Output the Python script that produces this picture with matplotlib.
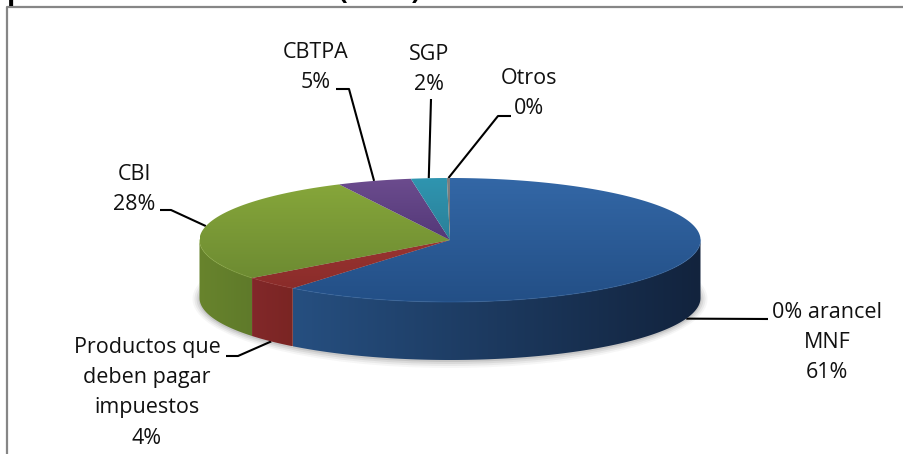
import numpy as np
import matplotlib.pyplot as plt
from matplotlib.colors import LinearSegmentedColormap
from matplotlib.patches import Polygon, Ellipse

# data, clockwise from 12 o'clock
names = ["0% arancel\nMNF", "Productos que\ndeben pagar\nimpuestos", "CBI", "CBTPA", "SGP", "Otros"]
values = [60.8, 3.7, 28.2, 4.8, 2.3, 0.2]

top_light = ["#3367a6", "#9a3431", "#86a63a", "#6c4c8e", "#2f95b0", "#808080"]
top_dark = ["#234f86", "#8a2c2a", "#6d8b32", "#533878", "#2a7f98", "#707070"]
side_left = ["#264f80", "#82282a", "#68842d", "#4a3368", "#246d84", "#606060"]
side_right = ["#12233d", "#7a2523", "#5f7a2a", "#4a3368", "#246d84", "#606060"]

# label centre x, first line y, knee and start of the leader
label_x = [827, 147, 134, 316, 429, 529]
label_y = [313, 348, 174, 52, 54, 78]
stub_start = [(768, 319), (226, 356), (160, 210), (336, 89), (431, 99), (511, 116)]
stub_knee = [(768, 319), (238, 356), (171, 210), (349, 89), (431, 99), (498, 116)]

cx, cy = 450, 240
rx, ry = 250.5, 62
depth = 58
line_gap = 30

plt.rcParams['font.family'] = ['Open Sans', 'DejaVu Sans']

fig = plt.figure(figsize=(9.04, 4.54), dpi=100)
ax = fig.add_axes([0, 0, 1, 1])
ax.axis('off')


def arc(a, b, dy=0):
    # angles in degrees, clockwise from the top of the ellipse
    t = np.radians(np.linspace(a, b, max(int(abs(b - a)) * 3, 2)))
    return np.column_stack([cx + rx * np.sin(t), cy + dy - ry * np.cos(t)])


def paint(points, c1, c2, horizontal=False):
    cmap = LinearSegmentedColormap.from_list("g", [c1, c2])
    x0, x1 = points[:, 0].min(), points[:, 0].max()
    y0, y1 = points[:, 1].min(), points[:, 1].max()
    if x1 - x0 < 1:
        x0, x1 = x0 - 1, x1 + 1
    grad = np.linspace(0, 1, 256)
    grad = grad[None, :] if horizontal else grad[:, None]
    im = ax.imshow(grad, cmap=cmap, extent=(x0, x1, y1, y0), aspect='auto',
                   interpolation='bilinear', zorder=3)
    poly = Polygon(points, closed=True, transform=ax.transData, fc='none', ec='none')
    ax.add_patch(poly)
    im.set_clip_path(poly)


# soft shadow under the pie
for grow, alpha in zip([7, 5, 3, 1], [0.05, 0.08, 0.1, 0.14]):
    ax.add_patch(Ellipse((cx, cy + depth + 1), 2 * (rx + grow), 2 * (ry + grow),
                         fc='#555555', ec='none', alpha=alpha, zorder=1))

edges = 360 * np.cumsum([0] + values) / np.sum(values)

# side wall first, only the part that faces the front
for i in range(len(values)):
    a, b = max(edges[i], 90), min(edges[i + 1], 270)
    if b <= a:
        continue
    front = arc(a, b)
    back = arc(a, b, depth)[::-1]
    paint(np.vstack([front, back]), side_left[i], side_right[i], horizontal=True)

# top face
for i in range(len(values)):
    pts = np.vstack([[(cx, cy)], arc(edges[i], edges[i + 1])])
    paint(pts, top_light[i], top_dark[i])
    if edges[i + 1] > 90 and edges[i] < 270:
        rim = arc(max(edges[i], 90), min(edges[i + 1], 270))
        ax.plot(rim[:, 0], rim[:, 1], color=top_light[i], lw=0.8, alpha=0.45, zorder=4)

# labels and leaders
for i in range(len(values)):
    lines = names[i].split("\n") + ["%d%%" % round(values[i])]
    for j, s in enumerate(lines):
        ax.text(label_x[i], label_y[i] + j * line_gap, s, ha='center', va='center',
                fontsize=15.5, color='#111111', zorder=6)
    mid = np.radians((edges[i] + edges[i + 1]) / 2)
    end_x = cx + rx * np.sin(mid)
    end_y = cy - ry * np.cos(mid)
    if i < 2:
        # these two leaders reach the side wall
        end_y += depth
    ax.plot([stub_start[i][0], stub_knee[i][0], end_x],
            [stub_start[i][1], stub_knee[i][1], end_y],
            color='black', lw=1.5, zorder=2, solid_capstyle='butt')

# frame of the chart area, right and bottom fall outside the crop
ax.plot([7, 7, 904], [454, 7, 7], color='#868686', lw=1.6, zorder=5)

# title, cut off by the top edge of the picture
ax.text(7, -0.5, "preferencia arancelaria (1999)", ha='left', va='baseline',
        fontsize=20, fontweight='bold', color='black', zorder=6)

ax.set_xlim(0, 904)
ax.set_ylim(454, 0)
fig.savefig("out.png", dpi=100)
